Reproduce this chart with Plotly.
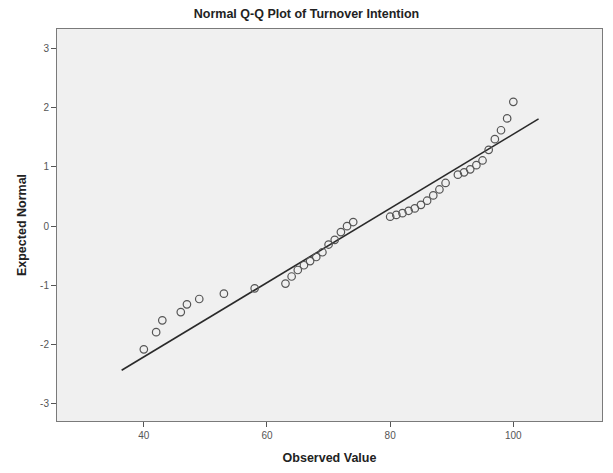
import plotly.graph_objects as go

# Observed values (x) and expected normal values (y)
observed = [40, 42, 43, 46, 47, 49, 53, 58, 63, 64, 65, 66, 67, 68, 69, 70, 71, 72, 73, 74,
            80, 81, 82, 83, 84, 85, 86, 87, 88, 89, 91, 92, 93, 94, 95, 96, 97, 98, 99, 100]
expected = [-2.08, -1.79, -1.59, -1.45, -1.32, -1.23, -1.14, -1.05, -0.97, -0.85, -0.74, -0.66,
            -0.59, -0.52, -0.44, -0.31, -0.23, -0.10, 0.00, 0.07,
            0.16, 0.19, 0.22, 0.26, 0.30, 0.36, 0.43, 0.52, 0.62, 0.73,
            0.87, 0.91, 0.96, 1.03, 1.11, 1.29, 1.47, 1.62, 1.82, 2.10]

# Reference line: y = (x - mean) / sd
line_mean = 75.2
line_sd = 15.95
line_x = [36.4, 104.1]
line_y = [(v - line_mean) / line_sd for v in line_x]

x_ticks = [40, 60, 80, 100]
y_ticks = [-3, -2, -1, 0, 1, 2, 3]

font = "Liberation Sans, Arial, sans-serif"

fig = go.Figure()
fig.add_trace(go.Scatter(x=line_x, y=line_y, mode="lines",
                         line=dict(color="#2a2a2a", width=1.6), hoverinfo="skip"))
fig.add_trace(go.Scatter(x=observed, y=expected, mode="markers",
                         marker=dict(symbol="circle-open", size=7.5, color="#555555",
                                     line=dict(width=1.2, color="#555555"))))

fig.update_layout(
    width=613, height=473,
    margin=dict(l=57, r=10, t=29, b=50),
    paper_bgcolor="white",
    plot_bgcolor="#f0f0f0",
    showlegend=False,
    font=dict(family=font, color="#222222"),
    title=dict(text="<b>Normal Q-Q Plot of Turnover Intention</b>",
               x=0.5, xref="container", xanchor="center",
               y=0.972, yref="container", yanchor="middle",
               font=dict(size=12.5, color="#222222", family=font)),
)
fig.update_xaxes(
    range=[25.9, 114.4], tickvals=x_ticks, ticktext=[str(v) for v in x_ticks],
    showgrid=False, zeroline=False,
    showline=True, linecolor="#7a7a7a", linewidth=1, mirror=True,
    ticks="outside", ticklen=5, tickcolor="#555555",
    tickfont=dict(size=10, color="#555555", family=font),
    title=dict(text="<b>Observed Value</b>", font=dict(size=12.5, color="#222222", family=font),
               standoff=13),
)
fig.update_yaxes(
    range=[-3.29, 3.33], tickvals=y_ticks, ticktext=[str(v) for v in y_ticks],
    showgrid=False, zeroline=False,
    showline=True, linecolor="#7a7a7a", linewidth=1, mirror=True,
    ticks="outside", ticklen=5, tickcolor="#555555",
    tickfont=dict(size=10, color="#555555", family=font),
    title=dict(text="<b>Expected Normal</b>", font=dict(size=12.5, color="#222222", family=font),
               standoff=10),
)

fig.write_html("out.html")
